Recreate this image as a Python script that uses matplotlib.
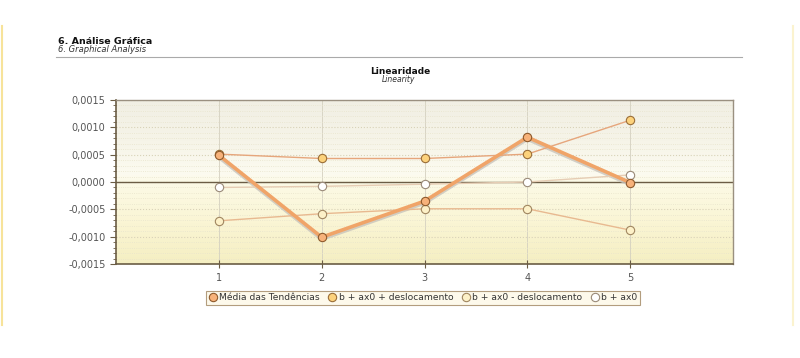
import numpy as np
import matplotlib
matplotlib.use('Agg')
import matplotlib.pyplot as plt
from matplotlib.ticker import FuncFormatter, MultipleLocator
from matplotlib.colors import LinearSegmentedColormap
from matplotlib.lines import Line2D

x = [1, 2, 3, 4, 5]
media = [0.00049, -0.00101, -0.00035, 0.00082, -0.00001]
mais_desl = [0.00051, 0.00043, 0.00043, 0.00051, 0.00113]
menos_desl = [-0.00071, -0.00058, -0.00049, -0.00049, -0.00088]
base = [-0.00010, -0.00008, -0.00004, 0.00000, 0.00013]
series_names = ['Média das Tendências', 'b + ax0 + deslocamento',
                'b + ax0 - deslocamento', 'b + ax0']

fig = plt.figure(figsize=(8, 3.58), dpi=100)
fig.patch.set_facecolor('white')

# header of the report section
fig.text(58/800, 1-41/358, '6. Análise Gráfica', fontsize=6.8, fontweight='bold',
         color='#111111', va='center')
fig.text(58/800, 1-50/358, '6. Graphical Analysis', fontsize=6, style='italic',
         color='#333333', va='center')
fig.add_artist(Line2D([56/800, 742/800], [1-57/358, 1-57/358], color='#aaaaaa', lw=0.8))
fig.add_artist(Line2D([1.5/800, 1.5/800], [1-26/358, 1-325/358], color='#f7e39a', lw=1.5))
fig.add_artist(Line2D([793/800, 793/800], [1-26/358, 1-325/358], color='#fbf3cf', lw=1.5))

ax = fig.add_axes([116/800, 1-264/358, 617/800, 164/358])

# gradient background
cmap = LinearSegmentedColormap.from_list('bg', [
    (0.0, '#f1efe4'), (0.25, '#f6f4e8'), (0.45, '#fcfbf0'),
    (0.5, '#fcfae6'), (0.75, '#faf5d4'), (1.0, '#f5efc2')])
grad = np.linspace(0, 1, 256).reshape(-1, 1)
ax.imshow(grad, aspect='auto', cmap=cmap, extent=[0, 6, -0.0015, 0.0015],
          origin='upper', zorder=0)

ax.set_xlim(0, 6)
ax.set_ylim(-0.0015, 0.0015)
ax.set_xticks(x)
ax.yaxis.set_major_locator(MultipleLocator(0.0005))
ax.yaxis.set_minor_locator(MultipleLocator(0.0001))
ax.yaxis.set_major_formatter(FuncFormatter(lambda v, p: ('%.4f' % v).replace('.', ',')))
ax.grid(axis='y', which='minor', color='#e8e4cc', ls=':', lw=0.6, zorder=1)
ax.grid(axis='y', which='major', color='#d8d2b8', ls=':', lw=0.8, zorder=1)
ax.grid(axis='x', which='major', color='#d4d0c0', ls='-', lw=0.6, zorder=1)
ax.axhline(0, color='#6b5d45', lw=1.0, zorder=2)

for s in ['top', 'right']:
    ax.spines[s].set_color('#9a9080')
    ax.spines[s].set_linewidth(1)
for s in ['left', 'bottom']:
    ax.spines[s].set_color('#6b5d45')
    ax.spines[s].set_linewidth(1.2)
ax.tick_params(axis='both', which='major', labelsize=7, colors='#6b5d45',
               labelcolor='#555555', length=4)
ax.tick_params(axis='y', which='minor', colors='#6b5d45', length=2)
ax.tick_params(axis='x', direction='inout', length=6)

# shadow under the mean line
ax.plot(x, [v - 0.00003 for v in media], color='#c8c4bc', lw=3, zorder=3, alpha=0.8)

ax.plot(x, base, color='#e6cdb4', lw=1, marker='o', ms=6, mfc='#ffffff',
        mec='#9a8a78', mew=0.8, zorder=4, label=series_names[3])
ax.plot(x, menos_desl, color='#e8b990', lw=1, marker='o', ms=6, mfc='#fdf1c8',
        mec='#a08660', mew=0.8, zorder=4, label=series_names[2])
ax.plot(x, mais_desl, color='#e6a67c', lw=1, marker='o', ms=6, mfc='#fcd27c',
        mec='#9a6e38', mew=0.8, zorder=5, label=series_names[1])
ax.plot(x, media, color='#f0a468', lw=2.6, marker='o', ms=6, mfc='#f7b27a',
        mec='#8e5a2c', mew=0.8, zorder=6, label=series_names[0])

fig.text(400/800, 1-72/358, 'Linearidade', fontsize=6.5, fontweight='bold',
         ha='center', va='center', color='#111111')
fig.text(398/800, 1-80/358, 'Linearity', fontsize=5.5, style='italic',
         ha='center', va='center', color='#333333')

h, l = ax.get_legend_handles_labels()
leg = fig.legend(h[::-1], l[::-1], loc='center', bbox_to_anchor=(423/800, 1-298/358),
                 ncol=4, fontsize=6.6, frameon=True, fancybox=False,
                 handlelength=0.9, handletextpad=0.25, columnspacing=0.9,
                 borderpad=0.3, edgecolor='#a08660', facecolor='#fdf8e6')
leg.get_frame().set_linewidth(0.8)
for t in leg.get_texts():
    t.set_color('#333333')
for lh in leg.legend_handles:
    lh.set_linestyle('none')

fig.savefig('out.png', dpi=100)
